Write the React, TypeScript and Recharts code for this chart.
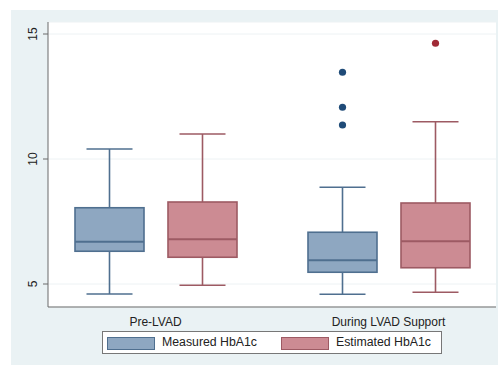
import React from 'react';
import { ComposedChart, Bar, XAxis, YAxis, CartesianGrid } from 'recharts';

// HbA1c distributions, [min, q1, median, q3, max] per category
const categories = ['Pre-LVAD', 'During LVAD Support'];
const measuredBox = [
  [4.6, 6.31, 6.69, 8.05, 10.4],
  [4.59, 5.47, 5.95, 7.07, 8.87],
];
const estimatedBox = [
  [4.95, 6.07, 6.79, 8.28, 11.0],
  [4.67, 5.65, 6.71, 8.24, 11.49],
];
const measuredOutliers = [[], [11.36, 12.07, 13.47]];
const estimatedOutliers = [[], [14.63]];
const yTicks = [5, 10, 15];

const toStats = (b: number[], out: number[]) => ({
  min: b[0], q1: b[1], med: b[2], q3: b[3], max: b[4], out,
});

const data = categories.map((name, i) => ({
  name,
  measured: toStats(measuredBox[i], measuredOutliers[i]),
  estimated: toStats(estimatedBox[i], estimatedOutliers[i]),
}));

const MEAS = { fill: '#8ea7c1', stroke: '#4f6f8f', dot: '#1f4b78' };
const EST = { fill: '#cc8b93', stroke: '#9d5a63', dot: '#a02a36' };
const FONT = 'Liberation Sans, Arial, sans-serif';

const makeBoxShape = (key: 'measured' | 'estimated', c: typeof MEAS) => (props: any) => {
  const { x, y, width, height, payload } = props;
  const s = payload[key];
  const top = Math.min(y, y + height);
  const h = Math.abs(height);
  // linear map through the bar's own pixel extent (max -> top, min -> bottom)
  const py = (v: number) => top + (h * (s.max - v)) / (s.max - s.min);
  const cx = x + width / 2;
  const cap = width / 3;
  return (
    <g>
      <line x1={cx} x2={cx} y1={py(s.max)} y2={py(s.q3)} stroke={c.stroke} strokeWidth={1.6} />
      <line x1={cx} x2={cx} y1={py(s.q1)} y2={py(s.min)} stroke={c.stroke} strokeWidth={1.6} />
      <line x1={cx - cap} x2={cx + cap} y1={py(s.max)} y2={py(s.max)} stroke={c.stroke} strokeWidth={1.6} />
      <line x1={cx - cap} x2={cx + cap} y1={py(s.min)} y2={py(s.min)} stroke={c.stroke} strokeWidth={1.6} />
      <rect x={x} y={py(s.q3)} width={width} height={py(s.q1) - py(s.q3)} fill={c.fill} stroke={c.stroke} strokeWidth={1.6} />
      <line x1={x} x2={x + width} y1={py(s.med)} y2={py(s.med)} stroke={c.stroke} strokeWidth={1.8} />
      {s.out.map((v: number, i: number) => (
        <circle key={i} cx={cx} cy={py(v)} r={3.6} fill={c.dot} />
      ))}
    </g>
  );
};

const YTick = (props: any) => {
  const { x, y, payload } = props;
  const bx = x - 4;
  return (
    <text x={bx} y={y} transform={`rotate(-90, ${bx}, ${y})`} textAnchor="middle"
      fontSize={12} fill="#222" fontFamily={FONT}>
      {payload.value}
    </text>
  );
};

const XTick = (props: any) => {
  const { x, y, payload } = props;
  return (
    <text x={x} y={y + 17} textAnchor="middle" fontSize={12} fill="#222" fontFamily={FONT}>
      {payload.value}
    </text>
  );
};

const LegendItem = ({ left, color, border, label }: { left: number; color: string; border: string; label: string }) => (
  <>
    <div style={{
      position: 'absolute', left, top: 5, width: 46, height: 11,
      background: color, border: `1px solid ${border}`,
    }} />
    <span style={{ position: 'absolute', left: left + 55, top: 3, whiteSpace: 'nowrap', lineHeight: '14px' }}>
      {label}
    </span>
  </>
);

export default function App() {
  return (
    <div style={{ position: 'absolute', left: 0, top: 0, width: 498, height: 366, background: '#fff' }}>
      <div style={{ position: 'absolute', left: 11, top: 10, width: 487, height: 355, background: '#eaf2f4' }} />
      <div style={{ position: 'absolute', left: 0, top: 0 }}>
        <ComposedChart width={498} height={366} data={data}
          margin={{ top: 22, right: 2, bottom: 29, left: 12 }}
          barSize={69} barGap={24}>
          <CartesianGrid vertical={false} stroke="#edf2f4" fill="#fff" />
          <XAxis dataKey="name" padding={{ left: -9, right: -9 }} tickLine={false} height={30}
            tickSize={0} tick={<XTick />} axisLine={{ stroke: '#6b6b6b' }} interval={0} />
          <YAxis type="number" domain={[4.08, 15.48]} ticks={yTicks} width={36}
            allowDataOverflow tickSize={5} tickLine={{ stroke: '#6b6b6b' }}
            axisLine={{ stroke: '#6b6b6b' }} tick={<YTick />} interval={0} />
          <Bar dataKey={(d: any) => [d.measured.min, d.measured.max]} name="Measured HbA1c"
            shape={makeBoxShape('measured', MEAS)} isAnimationActive={false} />
          <Bar dataKey={(d: any) => [d.estimated.min, d.estimated.max]} name="Estimated HbA1c"
            shape={makeBoxShape('estimated', EST)} isAnimationActive={false} />
        </ComposedChart>
      </div>
      <div style={{
        position: 'absolute', left: 102, top: 331, width: 340, height: 23,
        border: '1px solid #777', background: '#fff', boxSizing: 'border-box',
        fontSize: 12.3, color: '#222', fontFamily: FONT,
      }}>
        <LegendItem left={4} color={MEAS.fill} border={MEAS.stroke} label="Measured HbA1c" />
        <LegendItem left={178} color={EST.fill} border={EST.stroke} label="Estimated HbA1c" />
      </div>
    </div>
  );
}
